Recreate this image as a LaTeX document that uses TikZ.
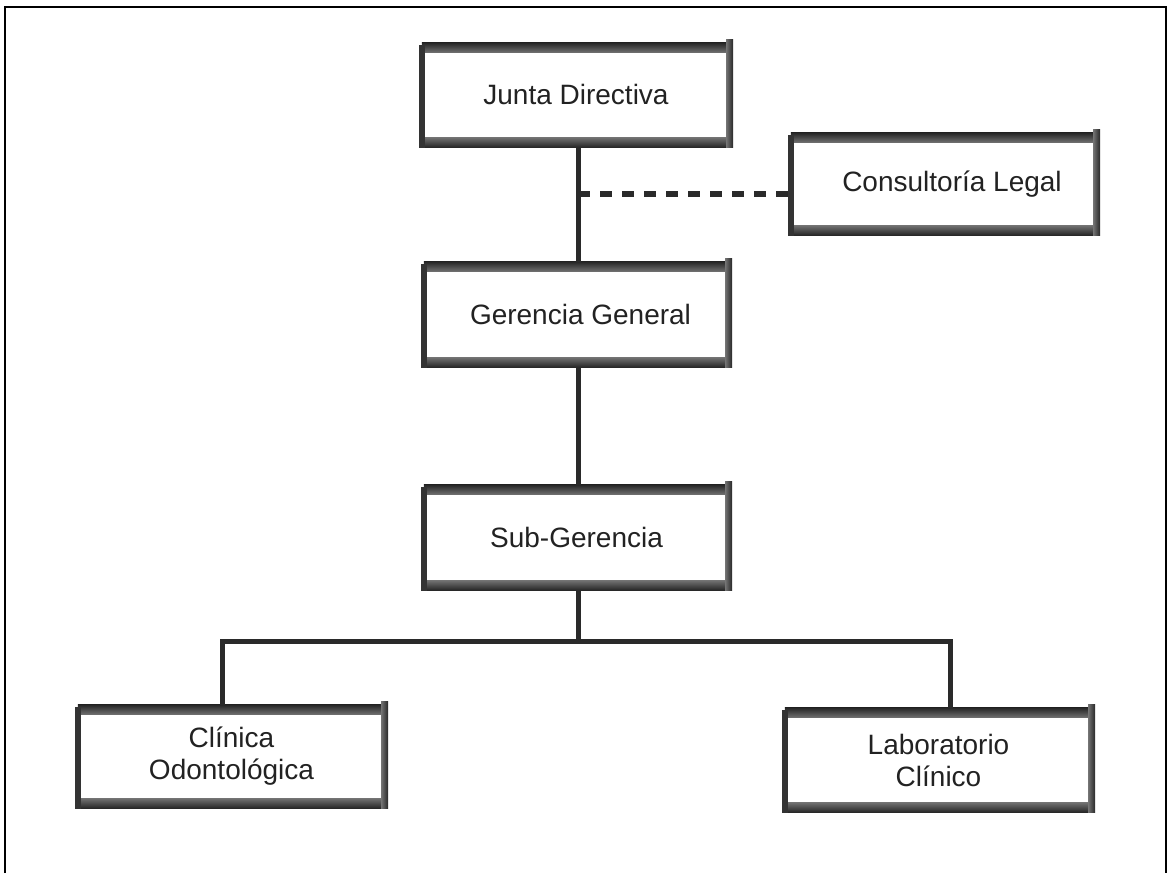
\documentclass[tikz,border=0pt]{standalone}
\usepackage{fontspec}
\setmainfont{Liberation Sans}
\usetikzlibrary{calc}
\definecolor{ink}{HTML}{2A2A2A}
\definecolor{txt}{HTML}{222222}
\tikzset{
  boxnode/.style={rectangle, fill=white, inner sep=0pt, align=center, text=txt,
    font=\fontsize{28}{32}\selectfont},
  conn/.style={draw=ink, line width=5pt},
  dashconn/.style={draw=ink, line width=6.5pt, dash pattern=on 12pt off 10pt},
  frame/.style={draw=black, line width=2.5pt}
}
\newcommand{\obox}[6]{%
  \node[boxnode, minimum width=#4pt, minimum height=#5pt] (#1) at (#2,#3) {#6};
  \fill[top color=black!85, bottom color=black!55] ([xshift=3pt]#1.north west) rectangle ([xshift=-6pt,yshift=-10pt]#1.north east);
  \fill[top color=black!55, bottom color=black!85] ([xshift=3pt,yshift=10pt]#1.south west) rectangle ([xshift=-6pt]#1.south east);
  \fill[black!80] ([yshift=-2pt]#1.north west) rectangle ([xshift=6pt,yshift=-1pt]#1.south west);
  \fill[left color=black!55, right color=black!85] ([xshift=-7pt]#1.south east) rectangle ([yshift=3pt]#1.north east);
}
\begin{document}
\begin{tikzpicture}[x=1pt,y=1pt]
\useasboundingbox (0,0) rectangle (1170,873);
\path[frame] (5,0) -- (5,866) -- (1166,866) -- (1166,0);

\obox{J}{576}{778}{314}{104}{Junta Directiva}
\obox{C}{944}{689}{312}{102}{\hspace*{16pt}Consultoría Legal}
\obox{G}{576.5}{558.5}{311}{105}{\hspace*{8pt}Gerencia General}
\obox{S}{576.5}{335.5}{311}{105}{Sub-Gerencia}
\obox{K}{231.5}{116.5}{313}{103}{Clínica\\Odontológica}
\obox{L}{938.5}{113}{313}{104}{Laboratorio\\Clínico}

\coordinate (dj) at (578,679);
\coordinate (sb) at (578,231);
\path[conn] (J.south -| 578,0) -- (G.north -| 578,0);
\path[dashconn] (dj) -- (C.west |- dj);
\path[conn] (G.south -| 578,0) -- (S.north -| 578,0);
\path[conn] (S.south -| 578,0) -- (sb);
\path[conn, line cap=rect] (222,231) -- (950,231);
\path[conn] (222,231) -- (K.north -| 222,0);
\path[conn] (950,231) -- (L.north -| 950,0);
\end{tikzpicture}
\end{document}
